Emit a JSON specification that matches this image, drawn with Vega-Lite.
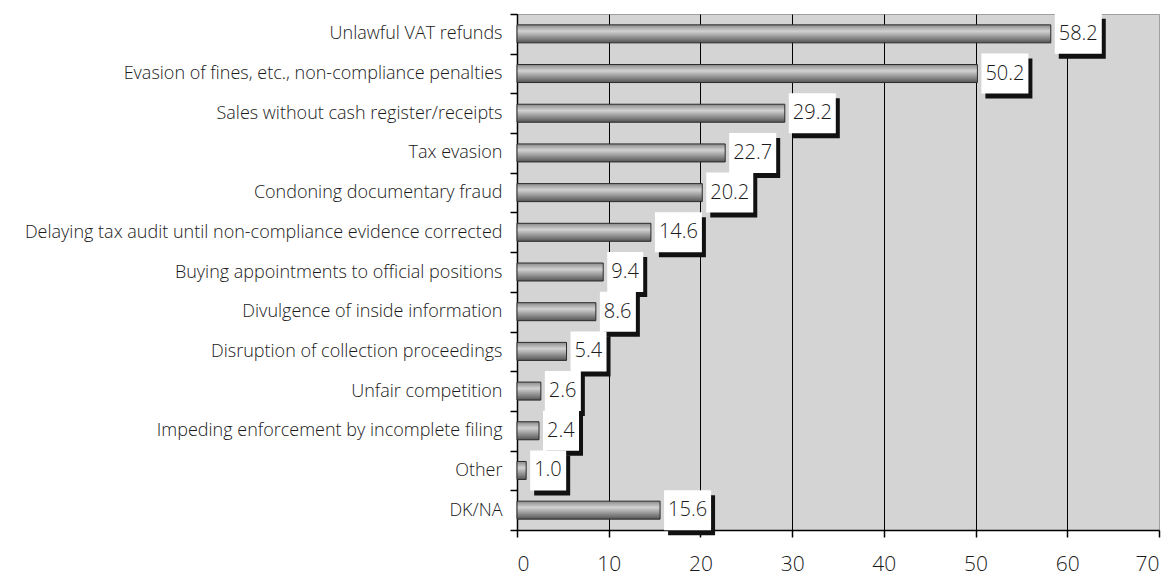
{
  "$schema": "https://vega.github.io/schema/vega-lite/v6.json",
  "width": 642,
  "height": 516,
  "autosize": {"type": "none"},
  "padding": {"left": 517, "top": 14, "right": 16, "bottom": 46},
  "background": "white",
  "view": {"fill": "#d4d4d4", "stroke": "#a0a0a0", "strokeWidth": 1},
  "data": {
    "values": [
      {"category": "Unlawful VAT refunds", "value": 58.2},
      {"category": "Evasion of fines, etc., non-compliance penalties", "value": 50.2},
      {"category": "Sales without cash register/receipts", "value": 29.2},
      {"category": "Tax evasion", "value": 22.7},
      {"category": "Condoning documentary fraud", "value": 20.2},
      {"category": "Delaying tax audit until non-compliance evidence corrected", "value": 14.6},
      {"category": "Buying appointments to official positions", "value": 9.4},
      {"category": "Divulgence of inside information", "value": 8.6},
      {"category": "Disruption of collection proceedings", "value": 5.4},
      {"category": "Unfair competition", "value": 2.6},
      {"category": "Impeding enforcement by incomplete filing", "value": 2.4},
      {"category": "Other", "value": 1.0},
      {"category": "DK/NA", "value": 15.6}
    ]
  },
  "encoding": {
    "y": {
      "field": "category",
      "type": "nominal",
      "sort": null,
      "title": null,
      "scale": {"paddingInner": 0, "paddingOuter": 0},
      "axis": {
        "domainColor": "black",
        "domainWidth": 1.5,
        "tickColor": "black",
        "tickWidth": 1.5,
        "tickSize": 7,
        "tickBand": "extent",
        "labelPadding": 8,
        "labelFont": "Open Sans",
        "labelFontWeight": 300,
        "labelFontSize": 18,
        "labelColor": "#1a1a1a",
        "labelLimit": 600
      }
    },
    "x": {
      "field": "value",
      "type": "quantitative",
      "title": null,
      "scale": {"domain": [0, 70], "nice": false},
      "axis": {
        "values": [0, 10, 20, 30, 40, 50, 60, 70],
        "domainColor": "black",
        "domainWidth": 1.5,
        "tickColor": "black",
        "tickWidth": 1.5,
        "tickSize": 7,
        "labelPadding": 16,
        "labelFont": "Open Sans",
        "labelFontWeight": 300,
        "labelFontSize": 21,
        "labelColor": "#1a1a1a",
        "grid": true,
        "gridColor": {"condition": {"test": "datum.value == 70", "value": "#a0a0a0"}, "value": "black"},
        "gridWidth": 1,
        "gridOpacity": 1
      }
    }
  },
  "layer": [
    {
      "mark": {
        "type": "bar",
        "height": 18,
        "stroke": "#2a2a2a",
        "strokeWidth": 1,
        "color": {
          "gradient": "linear",
          "x1": 0, "y1": 0, "x2": 0, "y2": 1,
          "stops": [
            {"offset": 0, "color": "#8a8a8a"},
            {"offset": 0.35, "color": "#d2d2d2"},
            {"offset": 1, "color": "#555555"}
          ]
        }
      }
    },
    {
      "mark": {"type": "point", "filled": true, "size": 1600, "fill": "#111111", "opacity": 1, "strokeWidth": 0, "xOffset": 4, "yOffset": 5},
      "encoding": {
        "shape": {
          "condition": {"test": "datum.value < 10", "value": "M0.2,-1L2.0,-1L2.0,1L0.2,1Z"},
          "value": "M0.2,-1L2.55,-1L2.55,1L0.2,1Z"
        }
      }
    },
    {
      "mark": {"type": "point", "filled": true, "size": 1600, "fill": "white", "opacity": 1, "strokeWidth": 0},
      "encoding": {
        "shape": {
          "condition": {"test": "datum.value < 10", "value": "M0.2,-1L2.0,-1L2.0,1L0.2,1Z"},
          "value": "M0.2,-1L2.55,-1L2.55,1L0.2,1Z"
        }
      }
    },
    {
      "mark": {"type": "text", "align": "left", "baseline": "middle", "dx": 8, "font": "Open Sans", "fontWeight": 300, "fontSize": 20, "color": "#1a1a1a"},
      "encoding": {
        "text": {"field": "value", "type": "quantitative", "format": ".1f"}
      }
    }
  ]
}
